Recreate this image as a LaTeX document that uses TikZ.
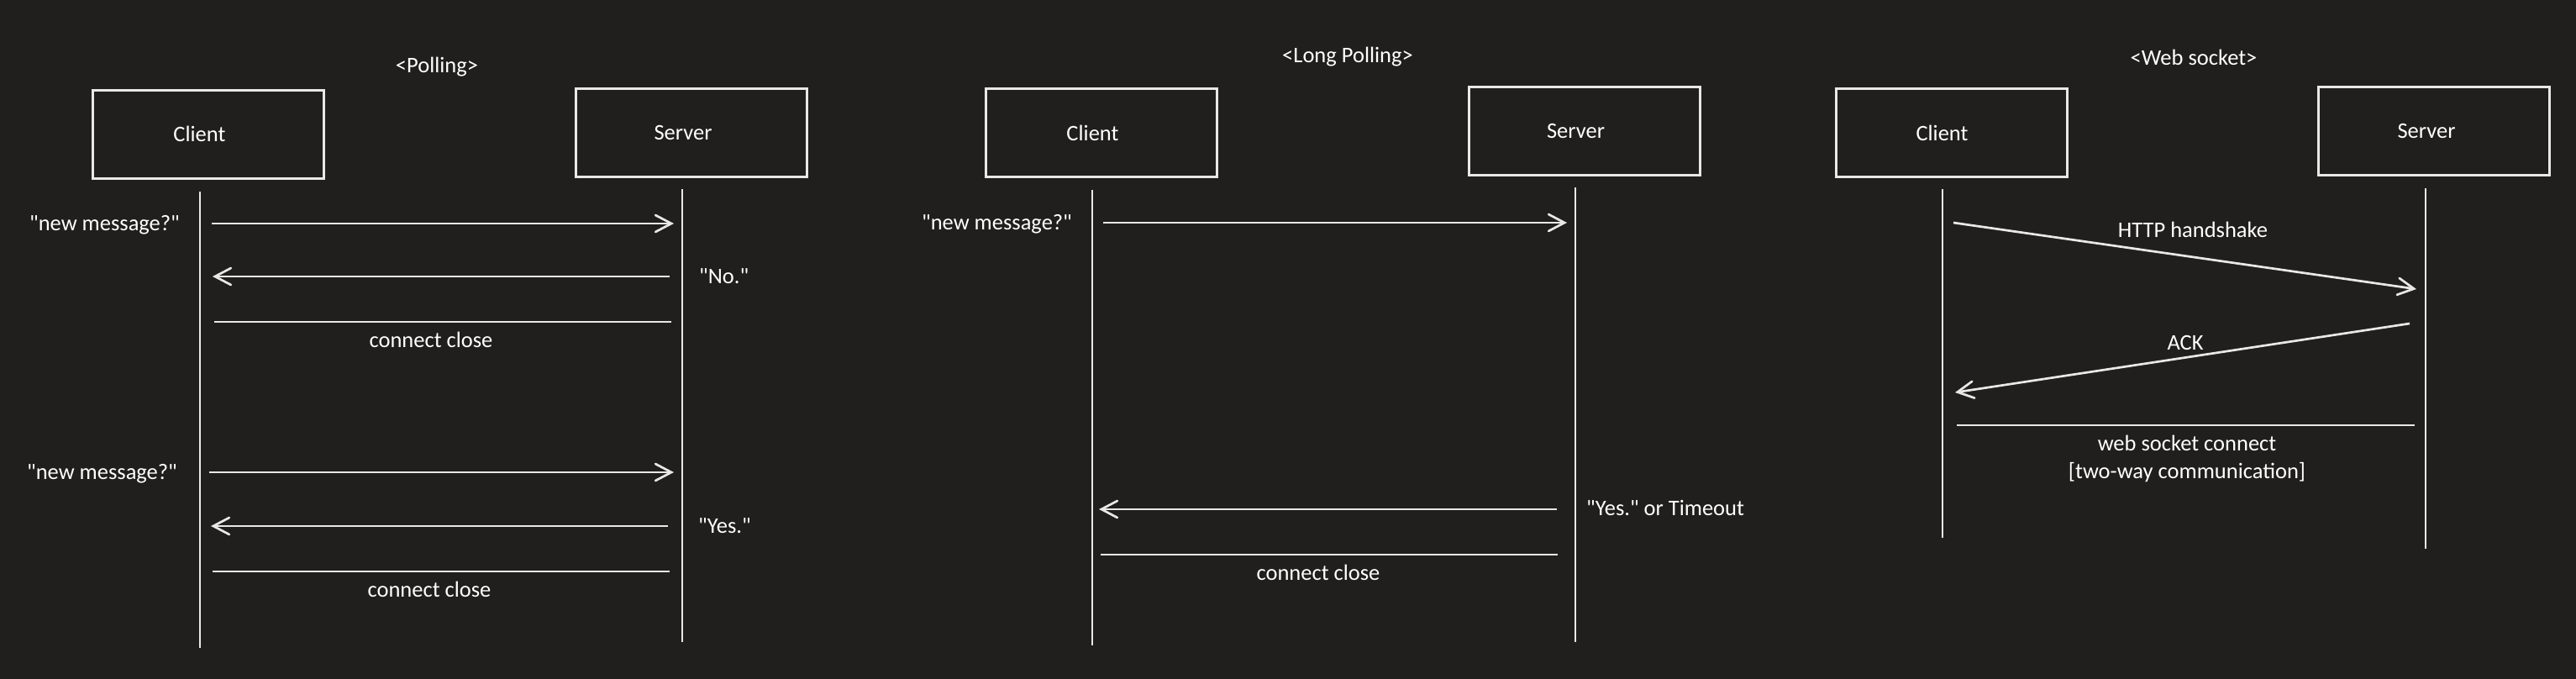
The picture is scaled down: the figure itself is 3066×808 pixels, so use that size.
\documentclass[tikz,border=0pt]{standalone}
\usepackage{fontspec}
\setmainfont{Carlito}[Ligatures=TeXOff]
\usetikzlibrary{arrows.meta,positioning}
\definecolor{bgc}{HTML}{201F1E}
\definecolor{linec}{HTML}{E8E8E8}

\begin{document}
\begin{tikzpicture}[x=1pt,y=-1pt,
    every node/.style={text=white, font=\fontsize{26.5}{33}\selectfont},
    actor/.style={draw=linec, line width=3pt, minimum width=275pt, minimum height=105pt},
    lbl/.style={inner sep=0pt},
    life/.style={linec, line width=2.8pt},
    msg/.style={linec, line width=2.7pt, -{Straight Barb[length=19pt,width=20pt,line cap=round]}},
    closeline/.style={linec, line width=2.7pt}]
    % Draw the background
    \fill[bgc] (0,0) rectangle (3066,808);
    \useasboundingbox (0,0) rectangle (3066,808);

    % Draw the polling panel
    \node (polltitle) at (520,80) {<Polling>};
    \node[actor, label={[xshift=-10pt]center:Client}] (pollclient) at (247.5,159.5) {};
    \node[actor, label={[xshift=-10pt]center:Server}] (pollserver) at (823,157.5) {};
    \coordinate (pc top) at (238,228);
    \coordinate (pc bot) at (238,771);
    \coordinate (ps top) at (812,225);
    \coordinate (ps bot) at (812,764);
    \draw[life] (pc top) -- (pc bot);
    \draw[life] (ps top) -- (ps bot);
    % first request
    \coordinate (p1a) at (252,266);
    \coordinate (p1b) at (802,266);
    \draw[msg] (p1a) -- (p1b);
    \node[lbl, anchor=east] (p1txt) at (214,268) {"new message?"};
    \coordinate (p2a) at (797,329);
    \coordinate (p2b) at (253,329);
    \draw[msg] (p2a) -- (p2b);
    \node[lbl, anchor=west] (p2txt) at (832,329) {"No."};
    \coordinate (p3a) at (255,383);
    \coordinate (p3b) at (799,383);
    \draw[closeline] (p3a) -- (p3b);
    \node (p3txt) at (513,404) {connect close};
    % second request
    \coordinate (p4a) at (249,562);
    \coordinate (p4b) at (802,562);
    \draw[msg] (p4a) -- (p4b);
    \node[lbl, anchor=east] (p4txt) at (211,564) {"new message?"};
    \coordinate (p5a) at (795,626);
    \coordinate (p5b) at (251,626);
    \draw[msg] (p5a) -- (p5b);
    \node[lbl, anchor=west] (p5txt) at (831,626) {"Yes."};
    \coordinate (p6a) at (253,680);
    \coordinate (p6b) at (797,680);
    \draw[closeline] (p6a) -- (p6b);
    \node (p6txt) at (511,701) {connect close};

    % Draw the long polling panel
    \node (longtitle) at (1604,68) {<Long Polling>};
    \node[actor, label={[xshift=-10pt]center:Client}] (longclient) at (1310.5,158) {};
    \node[actor, label={[xshift=-10pt]center:Server}] (longserver) at (1885.5,156) {};
    \coordinate (lc top) at (1300,226);
    \coordinate (lc bot) at (1300,768);
    \coordinate (ls top) at (1875,223);
    \coordinate (ls bot) at (1875,764);
    \draw[life] (lc top) -- (lc bot);
    \draw[life] (ls top) -- (ls bot);
    \coordinate (l1a) at (1313,265);
    \coordinate (l1b) at (1865,265);
    \draw[msg] (l1a) -- (l1b);
    \node[lbl, anchor=east] (l1txt) at (1276,267) {"new message?"};
    \coordinate (l2a) at (1853,606);
    \coordinate (l2b) at (1308,606);
    \draw[msg] (l2a) -- (l2b);
    \node[lbl, anchor=west] (l2txt) at (1888,604) {"Yes." or Timeout};
    \coordinate (l3a) at (1310,660);
    \coordinate (l3b) at (1854,660);
    \draw[closeline] (l3a) -- (l3b);
    \node (l3txt) at (1569,681) {connect close};

    % Draw the web socket panel
    \node (wstitle) at (2611,68) {<Web socket>};
    \node[actor, label={[xshift=-11pt]center:Client}] (wsclient) at (2322.5,158) {};
    \node[actor, label={[xshift=-9pt]center:Server}] (wsserver) at (2897,156) {};
    \coordinate (wc top) at (2312,225);
    \coordinate (wc bot) at (2312,640);
    \coordinate (wsv top) at (2887,224);
    \coordinate (wsv bot) at (2887,653);
    \draw[life] (wc top) -- (wc bot);
    \draw[life] (wsv top) -- (wsv bot);
    \coordinate (w1a) at (2325,265);
    \coordinate (w1b) at (2876,344);
    \draw[msg] (w1a) -- (w1b);
    \node (w1txt) at (2610,273) {HTTP handshake};
    \coordinate (w2a) at (2868,385);
    \coordinate (w2b) at (2327,467);
    \draw[msg] (w2a) -- (w2b);
    \node (w2txt) at (2601,408) {ACK};
    \coordinate (w3a) at (2329,506);
    \coordinate (w3b) at (2874,506);
    \draw[closeline] (w3a) -- (w3b);
    \node[align=center] (w3txt) at (2603,546) {web socket connect\\{}[two-way communication]};
\end{tikzpicture}
\end{document}
